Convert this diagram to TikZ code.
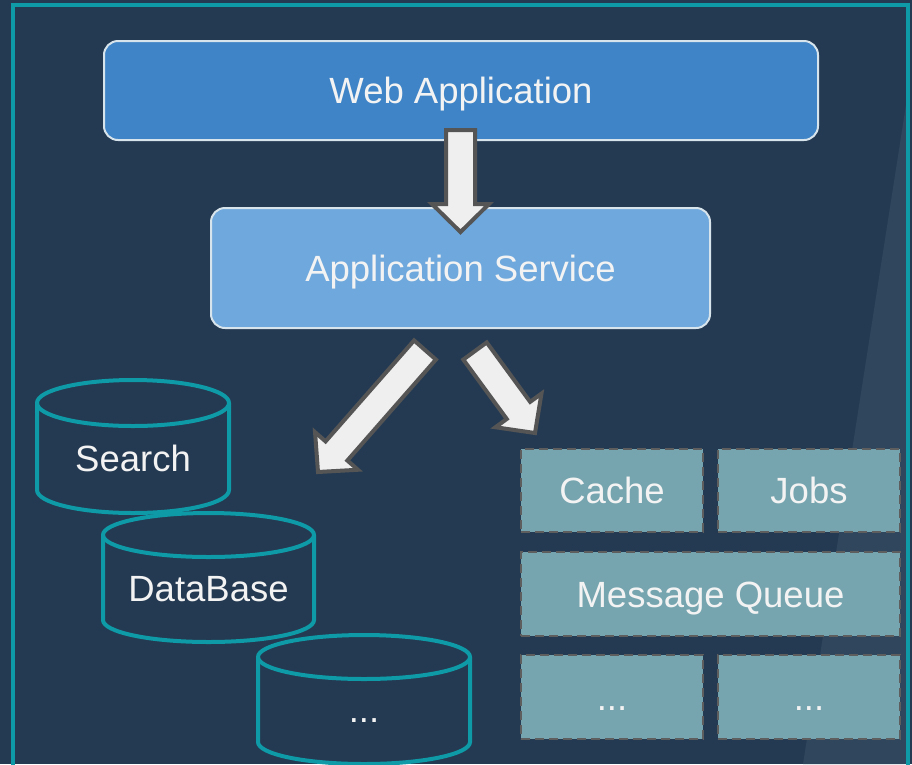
\documentclass[tikz,border=0pt]{standalone}
\usepackage{fontspec}
\setmainfont{Liberation Sans}
\usetikzlibrary{calc}

\definecolor{bgdark}{HTML}{243A52}
\definecolor{bgband}{HTML}{2F465D}
\definecolor{frameteal}{HTML}{0E9AA7}
\definecolor{webblue}{HTML}{3E84C6}
\definecolor{svcblue}{HTML}{6FA8DC}
\definecolor{boxedge}{HTML}{D8E4EC}
\definecolor{tilefill}{HTML}{76A5AF}
\definecolor{tileedge}{HTML}{5E5E5E}
\definecolor{arrowfill}{HTML}{EFEFEF}
\definecolor{arrowedge}{HTML}{555555}
\definecolor{labeltext}{HTML}{F3F3F3}

\tikzset{
  labelfont/.style={font=\fontsize{36.5}{40}\selectfont, text=labeltext,
    text height=26pt, text depth=0pt, inner sep=0pt},
  layerbox/.style={labelfont, rectangle, rounded corners=14pt, draw=boxedge,
    line width=2pt},
  tilebox/.style={labelfont, rectangle, draw=tileedge, fill=tilefill,
    line width=2pt, dash pattern=on 9pt off 5pt, minimum height=83pt},
  storecyl/.style={draw=frameteal, line width=4pt, fill=bgdark},
  flowarrowstyle/.style={draw=arrowedge, fill=arrowfill, line width=4pt,
    line join=miter},
}

% block arrow from #1 to #2: shaft 29pt wide, head 57pt wide and 28pt long
\newcommand\flowarrow[2]{%
  \draw[flowarrowstyle] let \p1=($(#2)-(#1)$), \n1={atan2(\y1,\x1)} in
    ($(#1)+(\n1+90:14.5pt)$)
    -- ($(#2)!28pt!(#1)+(\n1+90:14.5pt)$)
    -- ($(#2)!28pt!(#1)+(\n1+90:28.5pt)$)
    -- (#2)
    -- ($(#2)!28pt!(#1)+(\n1-90:28.5pt)$)
    -- ($(#2)!28pt!(#1)+(\n1-90:14.5pt)$)
    -- ($(#1)+(\n1-90:14.5pt)$) -- cycle;%
}

% storage cylinder: centre x, top-ellipse y, x radius, bottom-ellipse y, y radius
\newcommand\storagecyl[5]{%
  \filldraw[storecyl] ({#1-#3},#2) -- ({#1-#3},#4)
    arc[start angle=180, end angle=360, x radius=#3pt, y radius=#5pt]
    -- ({#1+#3},#2)
    arc[start angle=0, end angle=180, x radius=#3pt, y radius=#5pt] -- cycle;
  \draw[storecyl, fill=none] ({#1-#3},#2)
    arc[start angle=180, end angle=360, x radius=#3pt, y radius=#5pt];%
}

\begin{document}
\begin{tikzpicture}[x=1pt, y=-1pt]
  \useasboundingbox (0,0) rectangle (912,764);
  \clip (0,0) rectangle (912,764);

  % backdrop, lighter slanted band and frame
  \fill[bgdark] (0,0) rectangle (912,764);
  \fill[bgband] (908,92) -- (803,764) -- (908,764) -- cycle;
  \draw[frameteal, line width=4pt] (12.5,790) -- (12.5,5) -- (908,5) -- (908,790);

  % layers
  \node[layerbox, fill=webblue, minimum width=714pt, minimum height=99pt]
    (web) at (461,90.5) {Web Application};
  \node[layerbox, fill=svcblue, minimum width=499pt, minimum height=120pt]
    (svc) at (460.5,268) {Application Service};

  % arrow end points
  \coordinate (a1s) at (460.5,130);
  \coordinate (a1t) at (460.5,232);
  \coordinate (a2s) at (425,350);
  \coordinate (a2t) at (318,472);
  \coordinate (a3s) at (475,351);
  \coordinate (a3t) at (535,433);

  \flowarrow{a1s}{a1t}
  \flowarrow{a2s}{a2t}
  \flowarrow{a3s}{a3t}

  % storage cylinders
  \storagecyl{133}{403}{96}{490}{23}
  \node[labelfont] (search) at (133,458) {Search};
  \storagecyl{208.5}{535}{105.5}{620}{22}
  \node[labelfont] (database) at (208.5,588) {DataBase};
  \storagecyl{364}{657}{106}{742}{22}
  \node[labelfont] (morestore) at (364,709) {...};

  % middleware tiles
  \node[tilebox, minimum width=182pt] (cache) at (612,490.5) {Cache};
  \node[tilebox, minimum width=182pt] (jobs) at (809,490.5) {Jobs};
  \node[tilebox, minimum width=379pt, minimum height=84pt] (mq) at (710.5,594) {Message Queue};
  \node[tilebox, minimum width=182pt, minimum height=84pt] (moreA) at (612,697) {...};
  \node[tilebox, minimum width=182pt, minimum height=84pt] (moreB) at (809,697) {...};
\end{tikzpicture}
\end{document}
